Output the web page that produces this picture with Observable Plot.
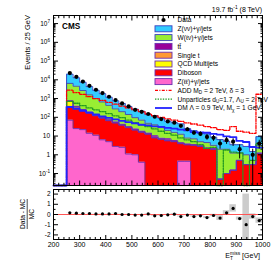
<!DOCTYPE html>
<html><head><meta charset="utf-8">
<script src="https://cdn.jsdelivr.net/npm/d3@7"></script>
<script src="https://cdn.jsdelivr.net/npm/@observablehq/plot@0.6"></script>
<style>
html,body{margin:0;padding:0;background:#fff;}
#chart{width:276px;height:265px;position:relative;font-family:"Liberation Sans",Arial,Helvetica,sans-serif;}
#chart svg{display:block;}
</style></head><body><div id="chart"></div>
<script>
// ---------------- data ----------------
const binLo = [250,275,300,325,350,375,400,425,450,475,500,525,550,575,600,625,650,675,700,725,750,775,800,825,850,875,900,925,950,975];
const binWidth = 25;
const dataCounts = [23000,14500,8100,4800,2950,1950,1250,830,550,380,250,196,150,107,80,60,52,35,23,15,13,9,8,4,6,5,2,0,1,4];
const dataErr    = [152,120,90,69,54,44,35,29,23,19.5,16,14,12.2,10.3,8.9,7.7,7.2,5.9,4.8,3.9,3.6,3,2.8,2,2.4,2.2,1.4,0,1,2];

const zllJets    = [70,25,22,14,11,6.3,5,2.8,2.5,1.1,1.0,0.4,0,0,0,0,0,0.45,0.45,0,0,0,0,0,0,0,0,0,0,0];
const diboson    = [310,291,202,152,109,83,61,47,35.5,27,20,15.6,12.6,8,6.6,5.6,5,3.5,3,3.2,2.8,2.2,2,0.05,0.1,0.15,0.5,0.3,0.3,1.2];
const qcdMultijet= [340,40,15,8,5,3,2,1.5,1,0.8,0.5,0.4,0.3,0.2,0.2,0.1,0.1,0,0,0,0,0,0,0,0,0,0,0,0,0];
const singleTop  = [12,9,7,5,3.5,2.5,2,1.5,1,0.8,0.6,0.5,0.4,0.3,0.3,0.2,0.2,0.1,0.1,0.1,0.1,0,0,0,0,0,0,0,0,0];
const ttbar      = [25,20,15,10,8,6,4.5,3.5,2.5,2,1.5,1.2,1,1.8,0.5,1.2,0.4,0.3,0.2,0.2,0.15,0.1,0.1,0,0,0,0,0,0,0];
const wJets      = [5700,4185,2430,1396,864,560,362,225,157,110,72,53,34,29.5,20.6,12.9,10.1,8.2,4.1,3.6,1.95,2.2,1.1,1.95,1.9,1.1,0.76,0.7,0.2,2.0];
const znnJets    = [13490,8310,4720,2780,1754,1160,738,477,350,239,174,138,93,83,61,42,35.5,32,17.2,12.4,9.5,8.4,5.5,4.5,3.2,2.2,2.2,1.8,1.0,6.1];

const addSignal        = [2820,2090,1660,1260,1000,794,631,501,398,316,251,200,151,120,100,83,71,60,50,44,38,32,28,22,20,32,18,16,14,1700];
const unparticleSignal = [708,562,417,316,251,200,158,120,95,71,52,40,32,24,18,14,11.2,7.9,6.3,5,3.5,2.2,2.5,0,1.8,1.4,1.26,0,0.5,4];
const dmSignal         = [355,282,224,178,141,112,93,78,65,55,47,40,37,33,31,27,25,22,20,16,15.5,15,13,12,9.5,8.8,5.5,4.8,2.6,2.4];

const ratioValues  = [0.16,0.13,0.10,0.10,0.06,0.06,0.06,0.10,0,0,-0.06,-0.06,0.06,-0.13,-0.1,-0.03,0.03,-0.2,-0.06,-0.2,-0.13,-0.3,-0.1,-0.35,0.16,0.6,-0.4,-1,-0.2,-0.6];
const ratioBoxHalf = [0.01,0.01,0.01,0.01,0.01,0.015,0.015,0.02,0.02,0.02,0.025,0.03,0.03,0.035,0.04,0.04,0.045,0.05,0.05,0.06,0.06,0.1,0.12,0.24,0.22,0.36,0.15,3,0.26,0.26];

const yTickValues = [0.1,1,10,100,1000,1e4,1e5,1e6,1e7];
const yTickLabels = ["10^{-1}","1","10","10^{2}","10^{3}","10^{4}","10^{5}","10^{6}","10^{7}"];
const xTickValues = [200,300,400,500,600,700,800,900,1000];
const xTickLabels = ["200","300","400","500","600","700","800","900","1000"];
const rTickValues = [-2,-1,0,1,2];
const rTickLabels = ["-2","-1","0","1","2"];

const legendLabels = ["Data","Z(νν)+γ/jets","W(ℓν)+γ/jets","tt\u0304","Single t","QCD Multijets","Diboson","Z(ℓℓ)+γ/jets",
  "ADD M_{D} = 2 TeV, δ = 3","Unparticles d_{U}=1.7, Λ_{U} = 2 TeV","DM Λ = 0.9 TeV, M_{χ} = 1 GeV"];

// ---------------- styling ----------------
const FONT = '"Liberation Sans", Arial, Helvetica, sans-serif';
const FLOOR = 0.01;
const OUT = "#6a2fb0";
const stackLayers = [
  {values: zllJets,     fill: "#ff66cc", line: OUT},
  {values: diboson,     fill: "#ff0000", line: OUT},
  {values: qcdMultijet, fill: "#ffff00", line: OUT},
  {values: singleTop,   fill: "#ff9933", line: OUT},
  {values: ttbar,       fill: "#990099", line: OUT},
  {values: wJets,       fill: "#99ee33", line: "#3b3fc0"},
  {values: znnJets,     fill: "#33ccff", line: "#3b3fc0"}
];
const signals = [
  {values: addSignal,        stroke: "#ff0000", dash: "3,1.4,1,1.4", width: 1.3},
  {values: unparticleSignal, stroke: "#229922", dash: "1.4,1.2",     width: 1.3},
  {values: dmSignal,         stroke: "#2222ff", dash: null,          width: 1.8}
];
const lastEdge = binLo[binLo.length - 1] + binWidth;

// stacked areas and outlines
let below = binLo.map(() => 0);
const stackMarks = [], outlineMarks = [];
stackLayers.forEach(L => {
  const top = below.map((b, i) => b + L.values[i]);
  const pts = binLo.map((lo, i) => ({x: lo, lo: Math.max(below[i], FLOOR), hi: Math.max(top[i], FLOOR)}));
  pts.push({x: lastEdge, lo: pts[pts.length-1].lo, hi: pts[pts.length-1].hi});
  stackMarks.push(Plot.area(pts, {x1: "x", y1: "lo", y2: "hi", curve: "step-after", fill: L.fill}));
  const ol = [{x: binLo[0], y: FLOOR}, ...pts.map(p => ({x: p.x, y: p.hi})), {x: lastEdge, y: FLOOR}];
  outlineMarks.push(Plot.line(ol, {x: "x", y: "y", curve: "step-after", stroke: L.line, strokeWidth: 0.9}));
  below = top;
});

const signalMarks = signals.map(S => {
  const pts = [{x: 200, y: FLOOR}, ...binLo.map((lo, i) => ({x: lo, y: Math.max(S.values[i], FLOOR)})),
               {x: lastEdge, y: Math.max(S.values[S.values.length-1], FLOOR)}];
  return Plot.line(pts, {x: "x", y: "y", curve: "step-after", stroke: S.stroke, strokeWidth: S.width, strokeDasharray: S.dash});
});

const rows = binLo.map((lo, i) => ({lo, hi: lo + binWidth, c: lo + binWidth/2, n: dataCounts[i], e: dataErr[i],
  r: ratioValues[i], rb: ratioBoxHalf[i]}));
const dataRows = rows.filter(d => d.n > 0);

const yMinor = [];
for (let k = -2; k <= 7; k++) for (let m = 2; m <= 9; m++) { const v = m * 10 ** k; if (v > 0.023 && v < 2.7e7) yMinor.push(v); }
const xMinor = d3.range(220, 1000, 20).filter(v => v % 100 !== 0);
const rMinor = [-1.5,-0.5,0.5,1.5];

const tickAxes = (vals, minor, k, anchors, big, small) => anchors.flatMap(a => [
  (k === "x" ? Plot.axisX : Plot.axisY)(vals,  {anchor: a, tickSize: -big,   fill: "none", label: null, tickFormat: () => ""}),
  (k === "x" ? Plot.axisX : Plot.axisY)(minor, {anchor: a, tickSize: -small, fill: "none", label: null, tickFormat: () => ""})
]);

const mainSvg = Plot.plot({
  width: 276, height: 187, marginTop: 15, marginBottom: 2, marginLeft: 53, marginRight: 14,
  style: {fontFamily: FONT, background: "white", overflow: "visible", color: "black"},
  x: {domain: [200, 1000]},
  y: {type: "log", domain: [0.023, 2.7e7], clamp: true},
  marks: [
    ...stackMarks, ...outlineMarks, ...signalMarks,
    Plot.ruleX(dataRows, {x: "c", y1: d => Math.max(d.n - d.e, FLOOR), y2: d => d.n + d.e, stroke: "black", strokeWidth: 1}),
    Plot.dot(dataRows, {x: "c", y: "n", r: 2.1, fill: "black", stroke: "none"}),
    Plot.frame({stroke: "black", strokeWidth: 1}),
    ...tickAxes(yTickValues, yMinor, "y", ["left", "right"], 5, 2.5),
    ...tickAxes(xTickValues, xMinor, "x", ["bottom", "top"], 4.5, 2.2),
    Plot.axisY(yTickValues, {anchor: "left", tickSize: 0, tickPadding: 3.5, fontSize: 6.5, label: null,
      tickFormat: d => yTickLabels[yTickValues.indexOf(d)]})
  ]
});

const ratioSvg = Plot.plot({
  width: 276, height: 78, marginTop: 2, marginBottom: 26, marginLeft: 53, marginRight: 14,
  style: {fontFamily: FONT, background: "white", overflow: "visible", color: "black"},
  x: {domain: [200, 1000]},
  y: {domain: [-2.45, 2.45], clamp: true},
  marks: [
    Plot.rect(rows, {x1: "lo", x2: "hi", y1: d => d.r - d.rb, y2: d => d.r + d.rb, fill: "#cccccc"}),
    Plot.ruleY([0], {stroke: "#ff5555", strokeWidth: 1}),
    Plot.dot(rows, {x: "c", y: "r", r: 1.6, fill: "black", stroke: "none"}),
    Plot.frame({stroke: "black", strokeWidth: 1}),
    ...tickAxes(rTickValues, rMinor, "y", ["left", "right"], 5, 2.5),
    ...tickAxes(xTickValues, xMinor, "x", ["bottom", "top"], 4, 2),
    Plot.axisY(rTickValues, {anchor: "left", tickSize: 0, tickPadding: 3, fontSize: 6.5, label: null,
      tickFormat: d => rTickLabels[rTickValues.indexOf(d)]}),
    Plot.axisX(xTickValues, {anchor: "bottom", tickSize: 0, tickPadding: 3, fontSize: 7, label: null,
      tickFormat: d => xTickLabels[xTickValues.indexOf(d)]})
  ]
});

const chart = document.getElementById("chart");
chart.appendChild(mainSvg);
chart.appendChild(ratioSvg);

// ---------------- rich text helper (sub/superscripts) ----------------
function richText(el, str, fs) {
  const t = d3.select(el); el.textContent = "";
  const re = /([_^])\{([^}]*)\}/g;
  let last = 0, m, cur = 0, prevSub = null;
  const seg = (s, off, small, dx) => {
    const sp = t.append("tspan").text(s);
    const dy = off - cur; if (dy) sp.attr("dy", dy.toFixed(2));
    if (dx) sp.attr("dx", dx.toFixed(2));
    sp.attr("font-size", (small ? fs * 0.7 : fs).toFixed(2));
    cur = off;
  };
  while ((m = re.exec(str))) {
    if (m.index > last) { seg(str.slice(last, m.index), 0, false); prevSub = null; }
    const sup = m[1] === "^";
    let dx = 0;
    if (sup && prevSub != null && m.index === last) dx = -prevSub.length * fs * 0.7 * 0.6;
    seg(m[2], sup ? -0.42 * fs : 0.22 * fs, true, dx);
    prevSub = sup ? null : m[2];
    last = re.lastIndex;
  }
  if (last < str.length) seg(str.slice(last), 0, false);
}
[mainSvg, ratioSvg].forEach(svg => d3.select(svg).selectAll("text").each(function() {
  const s = this.textContent;
  if (/[_^]\{/.test(s)) richText(this, s, parseFloat(getComputedStyle(this).fontSize) || 6.5);
}));

// ---------------- annotations, legend ----------------
const ms = d3.select(mainSvg);
const addText = (sel, str, x, y, fs, opts = {}) => {
  const t = sel.append("text").attr("x", x).attr("y", y).attr("font-size", fs)
    .attr("font-family", FONT).attr("fill", "black").attr("text-anchor", opts.anchor || "start");
  if (opts.weight) t.attr("font-weight", opts.weight);
  if (opts.transform) t.attr("transform", opts.transform);
  richText(t.node(), str, fs);
  return t;
};
addText(ms, "CMS", 62, 29.3, 8.2, {weight: "bold"});
addText(ms, "19.7 fb^{-1} (8 TeV)", 262, 12.3, 7, {anchor: "end"});
addText(ms, "Events / 25 GeV", 0, 0, 7.5, {anchor: "end", transform: "translate(30,15) rotate(-90)"});

const leg = ms.append("g").attr("text-anchor", "start");
const legY0 = 20, legDy = 8.8, legX = 155, legW = 17, legTextX = 177.5, legFs = 6.6;
const legendStyles = [
  {kind: "dot"},
  {kind: "box", layer: 6}, {kind: "box", layer: 5}, {kind: "box", layer: 4}, {kind: "box", layer: 3},
  {kind: "box", layer: 2}, {kind: "box", layer: 1}, {kind: "box", layer: 0},
  {kind: "line", sig: 0}, {kind: "line", sig: 1}, {kind: "line", sig: 2}
];
legendStyles.forEach((st, i) => {
  const y = legY0 + i * legDy;
  if (st.kind === "dot") leg.append("circle").attr("cx", legX + legW/2).attr("cy", y).attr("r", 2.1).attr("fill", "black");
  if (st.kind === "box") {
    const L = stackLayers[st.layer];
    leg.append("rect").attr("x", legX).attr("y", y - 3).attr("width", legW).attr("height", 6)
      .attr("fill", L.fill).attr("stroke", L.line).attr("stroke-width", 0.9);
  }
  if (st.kind === "line") {
    const S = signals[st.sig];
    leg.append("line").attr("x1", legX).attr("x2", legX + legW).attr("y1", y).attr("y2", y)
      .attr("stroke", S.stroke).attr("stroke-width", S.width).attr("stroke-dasharray", S.dash);
  }
  addText(leg, legendLabels[i], legTextX, y + 2.3, legFs);
});

const rs = d3.select(ratioSvg);
addText(rs, "E_{T}^{miss} [GeV]", 260, 71, 7, {anchor: "end"});
const rl = rs.append("g").attr("transform", "translate(27,27) rotate(-90)");
addText(rl, "Data - MC", 0, -1.8, 6.6, {anchor: "middle"});
rl.append("line").attr("x1", -15).attr("x2", 15).attr("y1", 0.2).attr("y2", 0.2).attr("stroke", "black").attr("stroke-width", 0.7);
addText(rl, "MC", 0, 6.6, 6.6, {anchor: "middle"});
</script>
</body></html>
